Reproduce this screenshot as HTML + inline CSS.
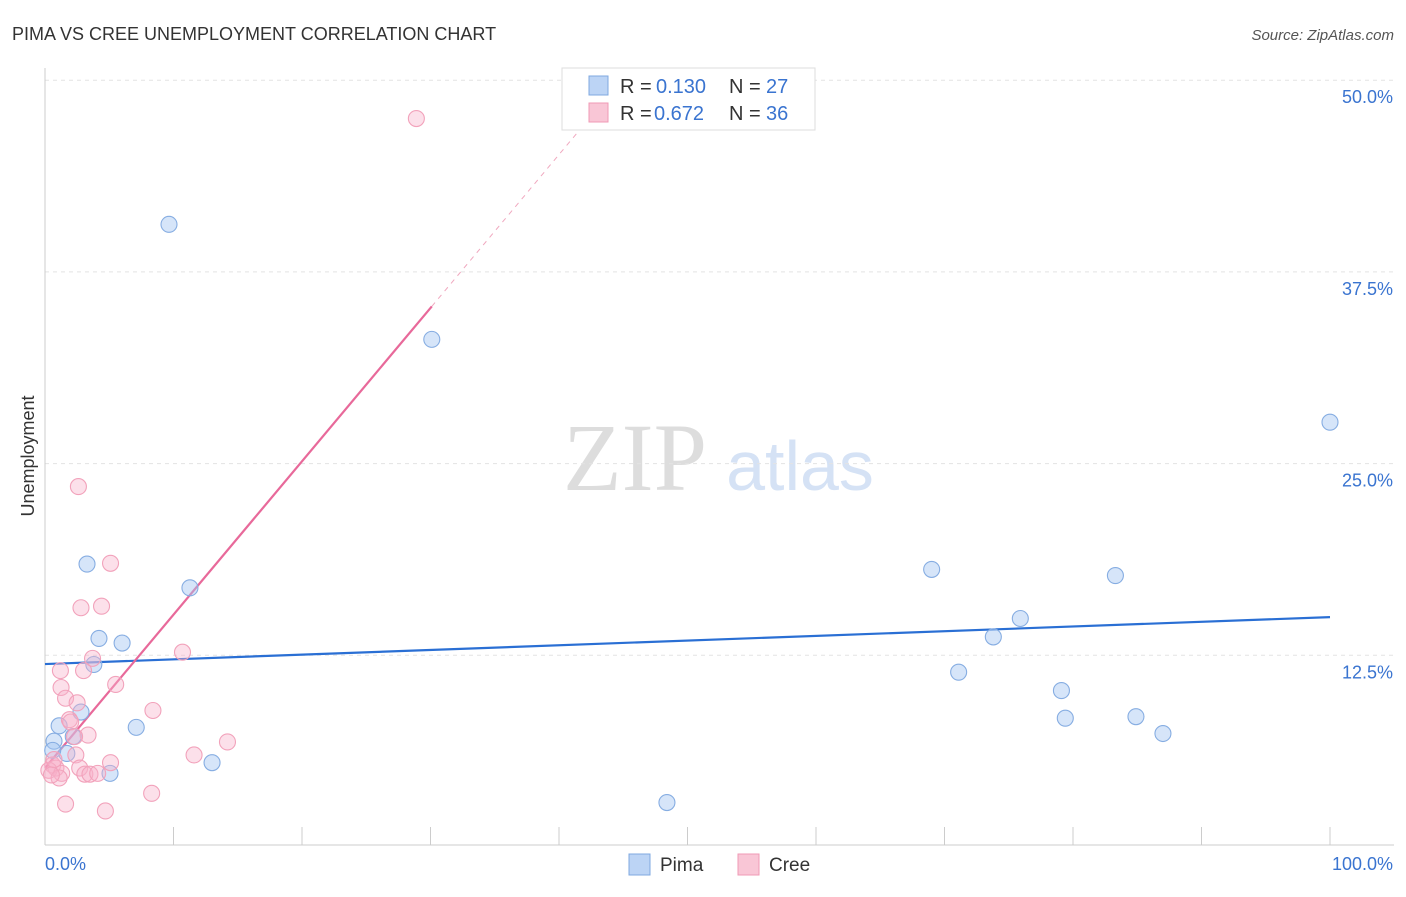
<!DOCTYPE html>
<html><head><meta charset="utf-8"><style>
body{margin:0;background:#fff;font-family:"Liberation Sans",sans-serif}
svg text{font-family:"Liberation Sans",sans-serif}
</style></head><body>
<svg id="c" width="1406" height="892">
<text x="12" y="40" font-size="18" fill="#333">PIMA VS CREE UNEMPLOYMENT CORRELATION CHART</text>
<text x="1394" y="40" font-size="15" fill="#555" font-style="italic" text-anchor="end">Source: ZipAtlas.com</text>
<text x="635" y="490" font-size="96" fill="#ddd" text-anchor="middle" style="font-family:'Liberation Serif',serif">ZIP</text>
<text x="800" y="490" font-size="70" fill="#d5e2f5" text-anchor="middle">atlas</text>
<text transform="translate(34,456) rotate(-90)" font-size="18" fill="#333" text-anchor="middle">Unemployment</text>
<g id="grid"></g><g id="axes"></g><g id="lines"></g><g id="pts"></g>
<g>
<rect x="562" y="68" width="253" height="62" fill="#fff" stroke="#ddd"/>
<rect x="589" y="76" width="19" height="19" fill="#bcd4f5" stroke="#7fa8e0"/>
<rect x="589" y="103" width="19" height="19" fill="#f9c6d6" stroke="#f09ab5"/>
<text x="620" y="93" font-size="20" fill="#333">R =</text>
<text x="656" y="93" font-size="20" fill="#3a74d0">0.130</text>
<text x="729" y="93" font-size="20" fill="#333">N =</text>
<text x="766" y="93" font-size="20" fill="#3a74d0">27</text>
<text x="620" y="120" font-size="20" fill="#333">R =</text>
<text x="654" y="120" font-size="20" fill="#3a74d0">0.672</text>
<text x="729" y="120" font-size="20" fill="#333">N =</text>
<text x="766" y="120" font-size="20" fill="#3a74d0">36</text>
</g>
<g>
<rect x="629" y="854" width="21" height="21" fill="#bcd4f5" stroke="#7fa8e0"/>
<text x="660" y="871" font-size="19" fill="#333">Pima</text>
<rect x="738" y="854" width="21" height="21" fill="#f9c6d6" stroke="#f09ab5"/>
<text x="769" y="871" font-size="19" fill="#333">Cree</text>
</g>
</svg>
<script>
const yTicks=[12.5,25,37.5,50];
const yTickLabels=["12.5%","25.0%","37.5%","50.0%"];
const pimaX=[9.65,30.1,3.27,11.28,4.2,6.0,3.8,2.8,1.1,7.1,0.7,2.2,1.7,13.0,5.06,48.4,100,69.0,83.3,75.9,73.8,71.1,79.1,79.4,84.9,87.0,0.6];
const pimaY=[40.6,33.1,18.45,16.9,13.6,13.3,11.9,8.8,7.9,7.8,6.9,7.2,6.1,5.5,4.8,2.9,27.7,18.1,17.7,14.9,13.7,11.4,10.2,8.4,8.5,7.4,6.3];
const creeX=[28.9,2.6,5.1,2.8,4.4,10.7,3.7,1.2,3.0,5.5,1.25,1.6,2.5,8.4,1.9,2.0,3.35,2.3,14.2,11.6,5.1,2.4,0.6,0.85,0.3,1.3,1.1,2.7,3.1,3.5,4.1,1.6,4.7,8.3,0.5,0.7];
const creeY=[47.5,23.5,18.5,15.6,15.7,12.7,12.3,11.5,11.5,10.6,10.4,9.7,9.4,8.9,8.3,8.15,7.3,7.2,6.85,6.0,5.5,6.0,5.35,5.15,5.0,4.8,4.5,5.15,4.75,4.75,4.8,2.8,2.35,3.5,4.7,5.7];
const pimaTrend=[11.93,14.99];
const creeTrend=[5.15,1.0];
const NS="http://www.w3.org/2000/svg";
const X=v=>45+v*12.85, Y=v=>847-v*15.336;
function mk(t,a,p){const e=document.createElementNS(NS,t);for(const k in a)e.setAttribute(k,a[k]);document.getElementById(p).appendChild(e);return e;}
yTicks.forEach((t,i)=>{
 let g=mk('line',{x1:45,x2:1394,y1:Y(t),y2:Y(t),stroke:'#e3e3e3','stroke-dasharray':'4,4'},'grid');
 
 
 let l=mk('text',{x:1393,y:Y(t)+23,'font-size':18,fill:'#3a74d0','text-anchor':'end'},'axes');
 l.textContent=yTickLabels[i];
 
 
});
let ax=mk('line',{x1:45,x2:1394,y1:845,y2:845,stroke:'#ccc'},'axes');


let ay=mk('line',{x1:45,x2:45,y1:68,y2:845,stroke:'#ccc'},'axes');


for(let i=1;i<=10;i++){let t=mk('line',{x1:X(i*10),x2:X(i*10),y1:827,y2:845,stroke:'#ccc'},'axes');
 
 }
let a0=mk('text',{x:45,y:870,'font-size':18,fill:'#3a74d0'},'axes');a0.textContent='0.0%';


let a1=mk('text',{x:1393,y:870,'font-size':18,fill:'#3a74d0','text-anchor':'end'},'axes');a1.textContent='100.0%';


let bl=mk('line',{x1:X(0),y1:Y(pimaTrend[0]),x2:X(100),y2:Y(pimaTrend[1]),stroke:'#2a6fd4','stroke-width':2.2},'lines');


let pd=mk('line',{x1:X(30.1),y1:Y(creeTrend[0]+creeTrend[1]*30.1),x2:X(41.5),y2:Y(creeTrend[0]+creeTrend[1]*41.5),stroke:'#f0a8bf','stroke-width':1,'stroke-dasharray':'5,5'},'lines');


let pl=mk('line',{x1:X(0),y1:Y(creeTrend[0]),x2:X(30.1),y2:Y(creeTrend[0]+creeTrend[1]*30.1),stroke:'#e8699a','stroke-width':2.2},'lines');


pimaX.forEach((v,i)=>{let c=mk('circle',{cx:X(v),cy:Y(pimaY[i]),r:8,fill:'rgba(165,198,242,0.45)',stroke:'#86ade2','stroke-width':1.1},'pts');
 
 });
creeX.forEach((v,i)=>{let c=mk('circle',{cx:X(v),cy:Y(creeY[i]),r:8,fill:'rgba(247,178,202,0.4)',stroke:'#f2a2bb','stroke-width':1.1},'pts');
 
 });
</script>
</body></html>
